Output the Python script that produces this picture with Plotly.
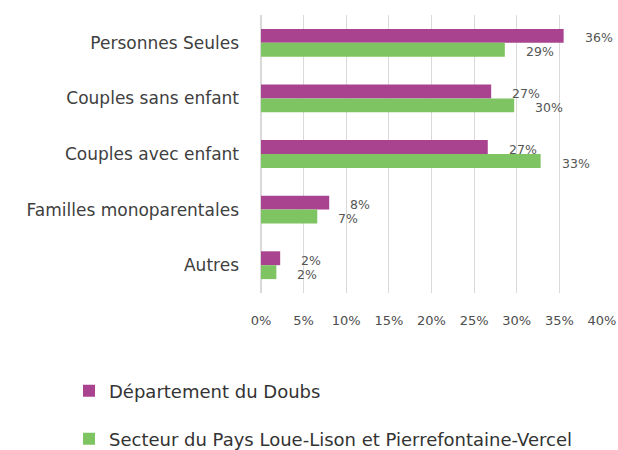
import plotly.graph_objects as go

categories = ["Personnes Seules", "Couples sans enfant", "Couples avec enfant",
              "Familles monoparentales", "Autres"]
doubs = [35.5, 27.0, 26.6, 8.0, 2.25]
secteur = [28.6, 29.7, 32.8, 6.6, 1.8]
series_names = ["Département du Doubs",
                "Secteur du Pays Loue-Lison et Pierrefontaine-Vercel"]
tick_vals = [0, 5, 10, 15, 20, 25, 30, 35, 40]
tick_text = [f"{v}%" for v in tick_vals]

C_DOUBS = "#a9438f"
C_SECT = "#7ec462"
FONT = "DejaVu Sans"

fig = go.Figure()
fig.add_trace(go.Bar(y=categories, x=doubs, orientation="h", name=series_names[0],
                     marker=dict(color=C_DOUBS, line=dict(width=0)), legend="legend"))
fig.add_trace(go.Bar(y=categories, x=secteur, orientation="h", name=series_names[1],
                     marker=dict(color=C_SECT, line=dict(width=0)), legend="legend2"))

annots = []
for cat, v in zip(categories, doubs):
    annots.append(dict(x=v, y=cat, xref="x", yref="y", text=f"{v:.0f}%", showarrow=False,
                       xanchor="left", yanchor="middle", xshift=19, yshift=5,
                       font=dict(family=FONT, size=12.5, color="#555555")))
for cat, v in zip(categories, secteur):
    annots.append(dict(x=v, y=cat, xref="x", yref="y", text=f"{v:.0f}%", showarrow=False,
                       xanchor="left", yanchor="middle", xshift=19, yshift=-9,
                       font=dict(family=FONT, size=12.5, color="#555555")))

leg_font = dict(family=FONT, size=18, color="#333333")
fig.update_layout(
    width=618, height=450,
    margin=dict(l=261, r=16, t=15, b=157, autoexpand=False),
    paper_bgcolor="white", plot_bgcolor="white",
    barmode="group", bargap=0.5, bargroupgap=0,
    font=dict(family=FONT, color="#404040"),
    annotations=annots,
    showlegend=True,
    legend=dict(x=-192/341, y=-(391-293)/278,
                xanchor="left", yanchor="middle", bgcolor="rgba(0,0,0,0)",
                font=leg_font, itemclick=False),
    legend2=dict(x=-192/341, y=-(439-293)/278,
                 xanchor="left", yanchor="middle", bgcolor="rgba(0,0,0,0)",
                 font=leg_font, itemclick=False),
)
fig.update_xaxes(range=[0, 40], tickvals=tick_vals, ticktext=tick_text,
                 showgrid=True, gridcolor="#d9d9d9", gridwidth=1,
                 zeroline=True, zerolinecolor="#d9d9d9", showline=False,
                 ticks="", ticklabelstandoff=18, fixedrange=True, automargin=False,
                 tickangle=0,
                 tickfont=dict(family=FONT, size=13, color="#4d4d4d"))
fig.update_yaxes(autorange="reversed", showgrid=False, ticks="", automargin=False,
                 ticklabelstandoff=21, fixedrange=True, showline=False,
                 tickfont=dict(family=FONT, size=17, color="#404040"))

fig.write_html("out.html", config={"displayModeBar": False},
               post_script="document.body.style.margin='0px';")
